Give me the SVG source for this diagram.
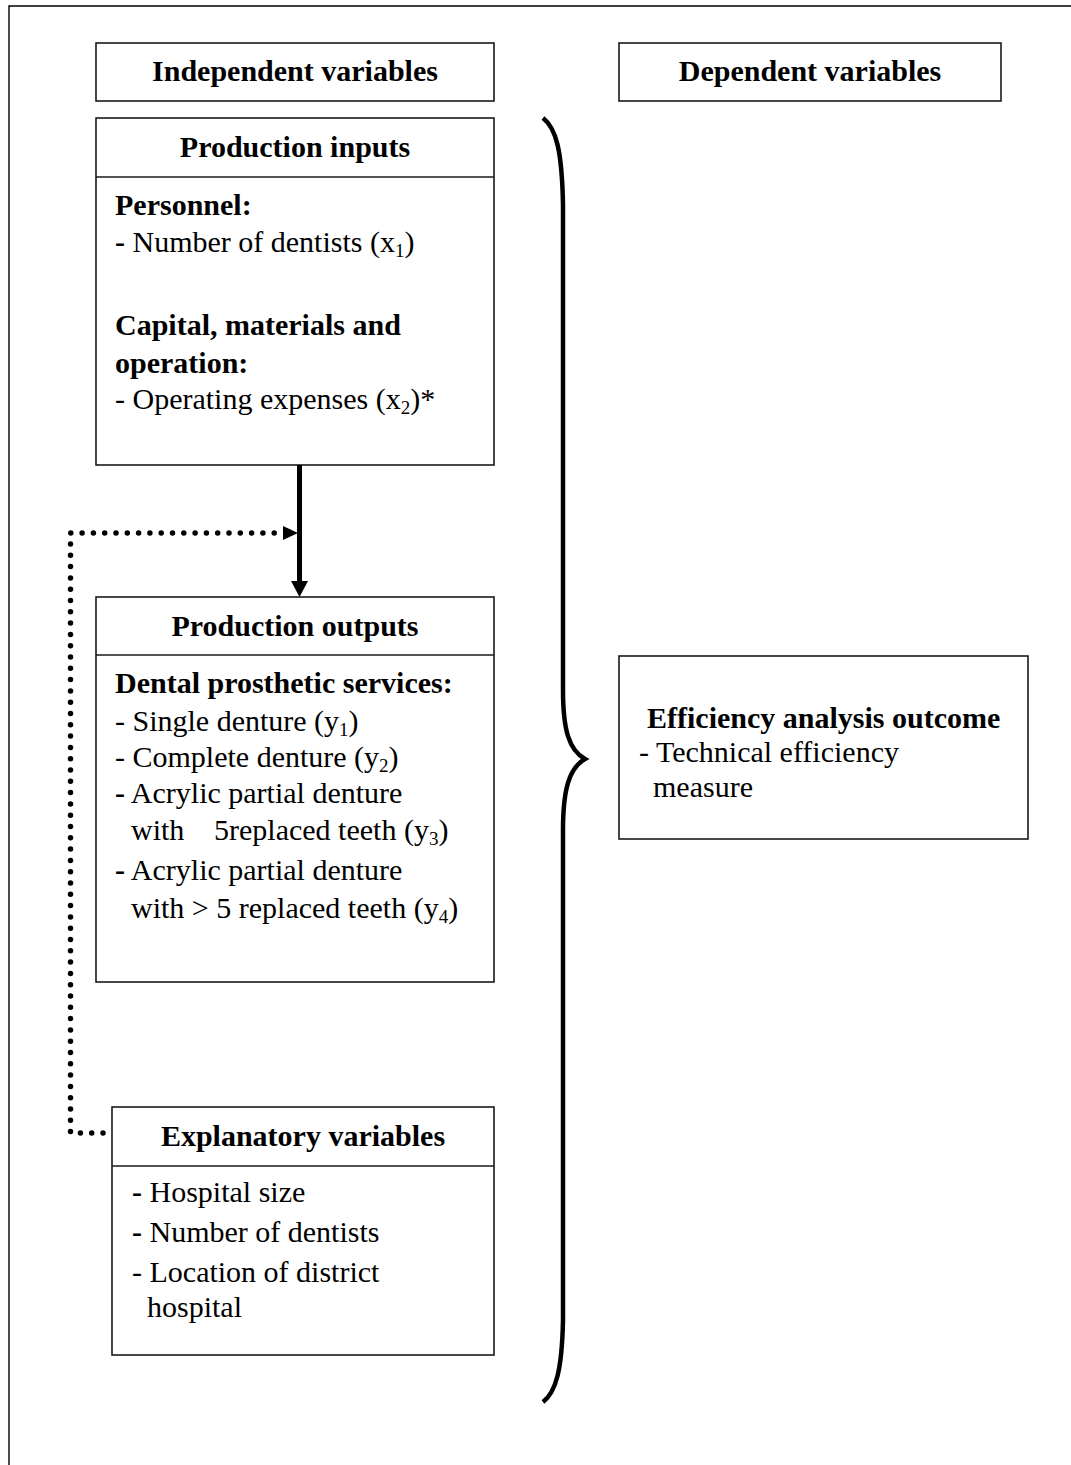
<svg xmlns="http://www.w3.org/2000/svg" width="1071" height="1465" viewBox="0 0 1071 1465">
  <defs>
    <style>
      .box { fill: #fff; stroke: #1a1a1a; stroke-width: 1.6; }
      .sep { stroke: #1a1a1a; stroke-width: 1.6; }
      .t { font-family: "Liberation Serif", "Times New Roman", serif; font-size: 30px; fill: #000; }
      .b { font-weight: bold; }
      .c { text-anchor: middle; }
      .sub { font-size: 19px; }
      .frame { stroke: #000; stroke-width: 1.4; fill: none; }
    </style>
  </defs>

  <rect width="1071" height="1465" fill="#fff"/>

  <!-- page frame -->
  <path class="frame" d="M9,1465 L9,6 L1071,6"/>

  <!-- column headers -->
  <g id="independent-header">
    <rect class="box" x="96" y="43" width="398" height="58"/>
    <text class="t b c" x="295" y="81">Independent variables</text>
  </g>
  <g id="dependent-header">
    <rect class="box" x="619" y="43" width="382" height="58"/>
    <text class="t b c" x="810" y="81">Dependent variables</text>
  </g>

  <!-- production inputs -->
  <g id="production-inputs">
    <rect class="box" x="96" y="118" width="398" height="347"/>
    <line class="sep" x1="96" y1="177" x2="494" y2="177"/>
    <text class="t b c" x="295" y="157">Production inputs</text>
    <text class="t b" x="115" y="215">Personnel:</text>
    <text class="t" x="115" y="252"><tspan class="b">-</tspan> Number of dentists (x<tspan class="sub" dy="5">1</tspan><tspan dy="-5">)</tspan></text>
    <text class="t b" x="115" y="335">Capital, materials and</text>
    <text class="t b" x="115" y="373">operation:</text>
    <text class="t" x="115" y="409">- Operating expenses (x<tspan class="sub" dy="5">2</tspan><tspan dy="-5">)*</tspan></text>
  </g>

  <!-- production outputs -->
  <g id="production-outputs">
    <rect class="box" x="96" y="597" width="398" height="385"/>
    <line class="sep" x1="96" y1="655" x2="494" y2="655"/>
    <text class="t b c" x="295" y="636">Production outputs</text>
    <text class="t b" x="115" y="693">Dental prosthetic services:</text>
    <text class="t" x="115" y="731">- Single denture (y<tspan class="sub" dy="5">1</tspan><tspan dy="-5">)</tspan></text>
    <text class="t" x="115" y="767">- Complete denture (y<tspan class="sub" dy="5">2</tspan><tspan dy="-5">)</tspan></text>
    <text class="t" x="115" y="803"><tspan class="b">-</tspan> Acrylic partial denture</text>
    <text class="t" x="131" y="840">with</text>
    <text class="t" x="214" y="840">5replaced teeth (y<tspan class="sub" dy="5">3</tspan><tspan dy="-5">)</tspan></text>
    <text class="t" x="115" y="880"><tspan class="b">-</tspan> Acrylic partial denture</text>
    <text class="t" x="131" y="918">with &gt; 5 replaced teeth (y<tspan class="sub" dy="5">4</tspan><tspan dy="-5">)</tspan></text>
  </g>

  <!-- explanatory variables -->
  <g id="explanatory-variables">
    <rect class="box" x="112" y="1107" width="382" height="248"/>
    <line class="sep" x1="112" y1="1166" x2="494" y2="1166"/>
    <text class="t b c" x="303" y="1146">Explanatory variables</text>
    <text class="t" x="132" y="1202"><tspan class="b">-</tspan> Hospital size</text>
    <text class="t" x="132" y="1242"><tspan class="b">-</tspan> Number of dentists</text>
    <text class="t" x="132" y="1282">- Location of district</text>
    <text class="t" x="147" y="1317">hospital</text>
  </g>

  <!-- efficiency outcome -->
  <g id="efficiency-outcome">
    <rect class="box" x="619" y="656" width="409" height="183"/>
    <text class="t b" x="647" y="728">Efficiency analysis outcome</text>
    <text class="t" x="639" y="762">- Technical efficiency</text>
    <text class="t" x="653" y="797">measure</text>
  </g>

  <!-- connectors -->
  <g id="connectors">
    <!-- inputs to outputs -->
    <line x1="299.5" y1="465" x2="299.5" y2="582" stroke="#000" stroke-width="5"/>
    <path d="M291,581 L308,581 L299.5,597 Z" fill="#000"/>
    <!-- explanatory variables feedback -->
    <path d="M103,1133 L70.5,1133 L70.5,533 L282,533" fill="none" stroke="#000" stroke-width="5.5" stroke-linecap="round" stroke-dasharray="0 11.3"/>
    <path d="M283,526 L298,533 L283,540 Z" fill="#000"/>
  </g>

  <!-- grouping brace -->
  <g id="brace">
    <path d="M543,118 C556,128 562,150 563,205 L563,690 C563,730 569,750 585,759 C569,768 563,790 563,830 L563,1320 C562,1370 556,1392 543,1402" fill="none" stroke="#000" stroke-width="4.5" stroke-linecap="butt"/>
  </g>
</svg>
